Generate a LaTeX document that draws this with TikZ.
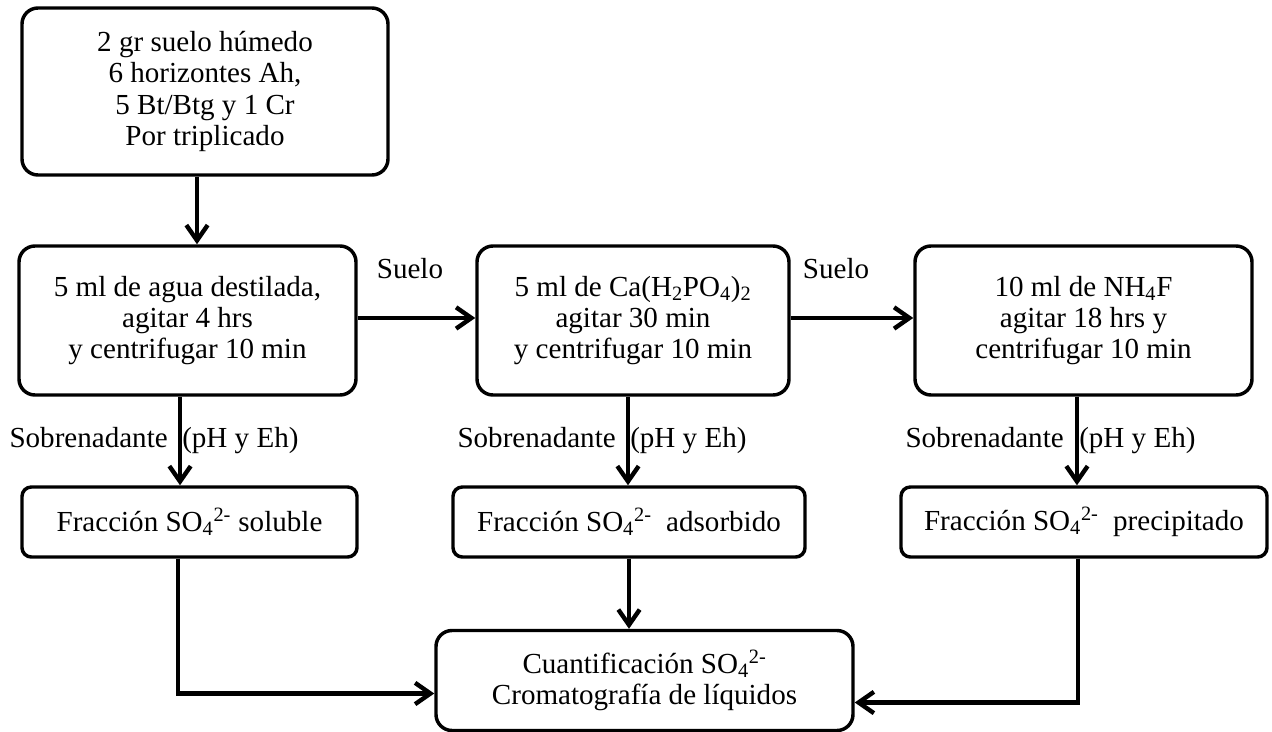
\documentclass[tikz,border=0pt]{standalone}
\usepackage{fontspec}
\setmainfont{Liberation Serif}
\usetikzlibrary{arrows.meta}
\begin{document}
\begin{tikzpicture}[x=0.75pt,y=-0.75pt,
  every node/.style={font=\fontsize{21.8}{23.5}\selectfont},
  procbox/.style={draw,line width=2.6pt,rounded corners=12pt,align=center,inner sep=0pt},
  fracbox/.style={procbox,rounded corners=7pt,minimum height=52.5pt},
  arr/.style={line width=3.3pt,-{Straight Barb[length=11.5pt,width=16pt]}},
  lbl/.style={inner sep=0pt}]
\useasboundingbox (0,0) rectangle (1272,732);
% boxes
\node[procbox,minimum width=274.5pt,minimum height=125.25pt] (top) at (205,91.5)
  {2 gr suelo húmedo\\6 horizontes Ah,\\5 Bt/Btg y 1 Cr\\Por triplicado};
\node[procbox,minimum width=252.75pt,minimum height=111.75pt] (b1) at (187.5,320.5)
  {5 ml de agua destilada,\\agitar 4 hrs\\y centrifugar 10 min};
\node[procbox,minimum width=234pt,minimum height=111.75pt] (b2) at (633,320.5)
  {5 ml de Ca(H\textsubscript{2}PO\textsubscript{4})\textsubscript{2}\\agitar 30 min\\y centrifugar 10 min};
\node[procbox,minimum width=252.75pt,minimum height=111.75pt] (b3) at (1083.5,320.5)
  {10 ml de NH\textsubscript{4}F\\agitar 18 hrs y\\centrifugar 10 min};
\node[fracbox,minimum width=251.25pt] (f1) at (189.5,522)
  {Fracción SO\textsubscript{4}\textsuperscript{2-} soluble};
\node[fracbox,minimum width=264pt] (f2) at (629,522)
  {Fracción SO\textsubscript{4}\textsuperscript{2-}\ \ adsorbido};
\node[fracbox,minimum width=274.5pt] (f3) at (1084,522)
  {Fracción SO\textsubscript{4}\textsuperscript{2-}\ \ precipitado};
\node[procbox,minimum width=312.75pt,minimum height=75pt] (q) at (644.5,680.5)
  {Cuantificación SO\textsubscript{4}\textsuperscript{2-}\\Cromatografía de líquidos};
% connector end points
\coordinate (t1) at ([xshift=-6pt]top.south);
\coordinate (h1) at ([yshift=1.9pt]b1.east);
\coordinate (h2) at ([yshift=1.9pt]b2.east);
\coordinate (v1) at ([xshift=-5.6pt]b1.south);
\coordinate (v2) at ([xshift=-3.75pt]b2.south);
\coordinate (v3) at ([xshift=-4.9pt]b3.south);
\coordinate (d1) at ([xshift=-8.6pt]f1.south);
\coordinate (d3) at ([xshift=-4.5pt]f3.south);
\coordinate (qw) at ([yshift=-9.75pt]q.west);
\coordinate (qe) at ([yshift=-16.5pt]q.east);
% connectors
\draw[arr] (t1) -- (t1 |- b1.north);
\draw[arr] (h1) -- (h1 -| b2.west);
\draw[arr] (h2) -- (h2 -| b3.west);
\draw[arr] (v1) -- (v1 |- f1.north);
\draw[arr] (v2) -- (v2 |- f2.north);
\draw[arr] (v3) -- (v3 |- f3.north);
\draw[arr] (d1) |- (qw);
\draw[arr] (f2.south) -- (f2.south |- q.north);
\draw[arr] (d3) |- (qe);
% labels
\node[lbl] (su1) at (410,269) {Suelo};
\node[lbl] (su2) at (836,269) {Suelo};
\node[lbl,anchor=base east] (s1) at (168,447) {Sobrenadante};
\node[lbl,anchor=base west] (p1) at (182,447) {(pH y Eh)};
\node[lbl,anchor=base east] (s2) at (616,447) {Sobrenadante};
\node[lbl,anchor=base west] (p2) at (630,447) {(pH y Eh)};
\node[lbl,anchor=base east] (s3) at (1064,447) {Sobrenadante};
\node[lbl,anchor=base west] (p3) at (1079,447) {(pH y Eh)};
\end{tikzpicture}
\end{document}
